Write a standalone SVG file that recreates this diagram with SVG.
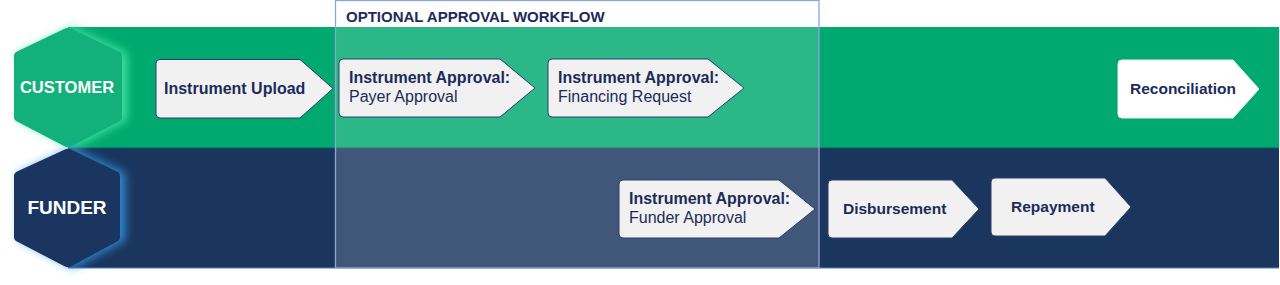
<svg xmlns="http://www.w3.org/2000/svg" width="1280" height="285" viewBox="0 0 1280 285">
<defs>
<style>
.lbl{font-family:"Liberation Sans",Arial,sans-serif;fill:#1c2b5a;font-size:16px}
.b{font-weight:bold}
.hex{font-family:"Liberation Sans",Arial,sans-serif;font-weight:bold;fill:#ffffff;text-anchor:middle}
.box{fill:#f1f1f1;stroke:#2c3f6c;stroke-width:1;stroke-linejoin:round}
.boxw{fill:#ffffff;stroke:#e9f2ee;stroke-width:1;stroke-linejoin:round}
</style>
<filter id="glow" x="-30%" y="-30%" width="160%" height="160%">
<feGaussianBlur stdDeviation="5"/>
</filter>
</defs>
<rect width="1280" height="285" fill="#ffffff"/>
<g id="lanes">
<rect x="68" y="27" width="1211" height="121" fill="#00a96f"/>
<rect x="68" y="148" width="1211" height="120" fill="#1a365f"/>
<line x1="68" y1="148" x2="1279" y2="148" stroke="#0f5a5a" stroke-width="1"/>
<line x1="68" y1="268" x2="1279" y2="268" stroke="#4f80c0" stroke-width="1.2"/>
</g>
<g id="customer">
<path d="M68,27 L122,53 L122,120 L68,148 L14,120 L14,53 Z" fill="#4ae6a8" opacity="0.9" filter="url(#glow)" transform="translate(5,0)"/>
<path d="M65,28.5 Q68,27 71,28.5 L119,51.5 Q122,53 122,56 L122,117 Q122,120 119,121.5 L71,146.5 Q68,148 65,146.5 L17,121.5 Q14,120 14,117 L14,56 Q14,53 17,51.5 Z" fill="#12b07a"/>
<text class="hex" x="67" y="92.5" font-size="16.5">CUSTOMER</text>
</g>
<g id="funder">
<path d="M68,148 L120,173 L120,240 L68,268 L14,240 L14,173 Z" fill="#3396e2" opacity="0.9" filter="url(#glow)" transform="translate(5,0)"/>
<path d="M65,149.5 Q68,148 71,149.5 L117,171.5 Q120,173 120,176 L120,237 Q120,240 117,241.5 L71,266.5 Q68,268 65,266.5 L17,241.5 Q14,240 14,237 L14,176 Q14,173 17,171.5 Z" fill="#1b3561"/>
<text class="hex" x="67" y="213.5" font-size="19">FUNDER</text>
</g>
<g id="optional-approval-workflow">
<rect x="335.5" y="0.5" width="483.5" height="267.5" fill="#ffffff" fill-opacity="0.17" stroke="#8ca7d6" stroke-width="1.3"/>
<text class="lbl b" x="346" y="21.5" style="font-size:15px">OPTIONAL APPROVAL WORKFLOW</text>
</g>
<g id="connectors"></g>
<g id="instrument-upload">
<path class="box" d="M160,59.5 H300 L333,88.5 L300,118 H160 Q156,118 156,114 V63.5 Q156,59.5 160,59.5 Z"/>
<text class="lbl b" x="164" y="93.5">Instrument Upload</text>
</g>
<g id="payer-approval">
<path class="box" d="M343,59 H500 L535,88 L500,117 H343 Q339,117 339,113 V63 Q339,59 343,59 Z"/>
<text class="lbl b" x="349" y="83">Instrument Approval:</text>
<text class="lbl" x="349" y="102">Payer Approval</text>
</g>
<g id="financing-request">
<path class="box" d="M552,59 H708 L744,88 L708,117 H552 Q548,117 548,113 V63 Q548,59 552,59 Z"/>
<text class="lbl b" x="558" y="83">Instrument Approval:</text>
<text class="lbl" x="558" y="102">Financing Request</text>
</g>
<g id="reconciliation">
<path class="boxw" d="M1122,60 H1233 L1259,89 L1233,118 H1122 Q1118,118 1118,114 V64 Q1118,60 1122,60 Z"/>
<text class="lbl b" x="1130" y="94" style="font-size:15.5px">Reconciliation</text>
</g>
<g id="funder-approval">
<path class="box" d="M623,180 H779 L815,209 L779,238 H623 Q619,238 619,234 V184 Q619,180 623,180 Z"/>
<text class="lbl b" x="629" y="204">Instrument Approval:</text>
<text class="lbl" x="629" y="223">Funder Approval</text>
</g>
<g id="disbursement">
<path class="box" d="M832,180 H952 L979,209 L952,238 H832 Q828,238 828,234 V184 Q828,180 832,180 Z"/>
<text class="lbl b" x="843" y="214" style="font-size:15.5px">Disbursement</text>
</g>
<g id="repayment">
<path class="box" d="M995,178 H1105 L1131,207 L1105,236 H995 Q991,236 991,232 V182 Q991,178 995,178 Z"/>
<text class="lbl b" x="1011" y="212" style="font-size:15.5px">Repayment</text>
</g>
</svg>
